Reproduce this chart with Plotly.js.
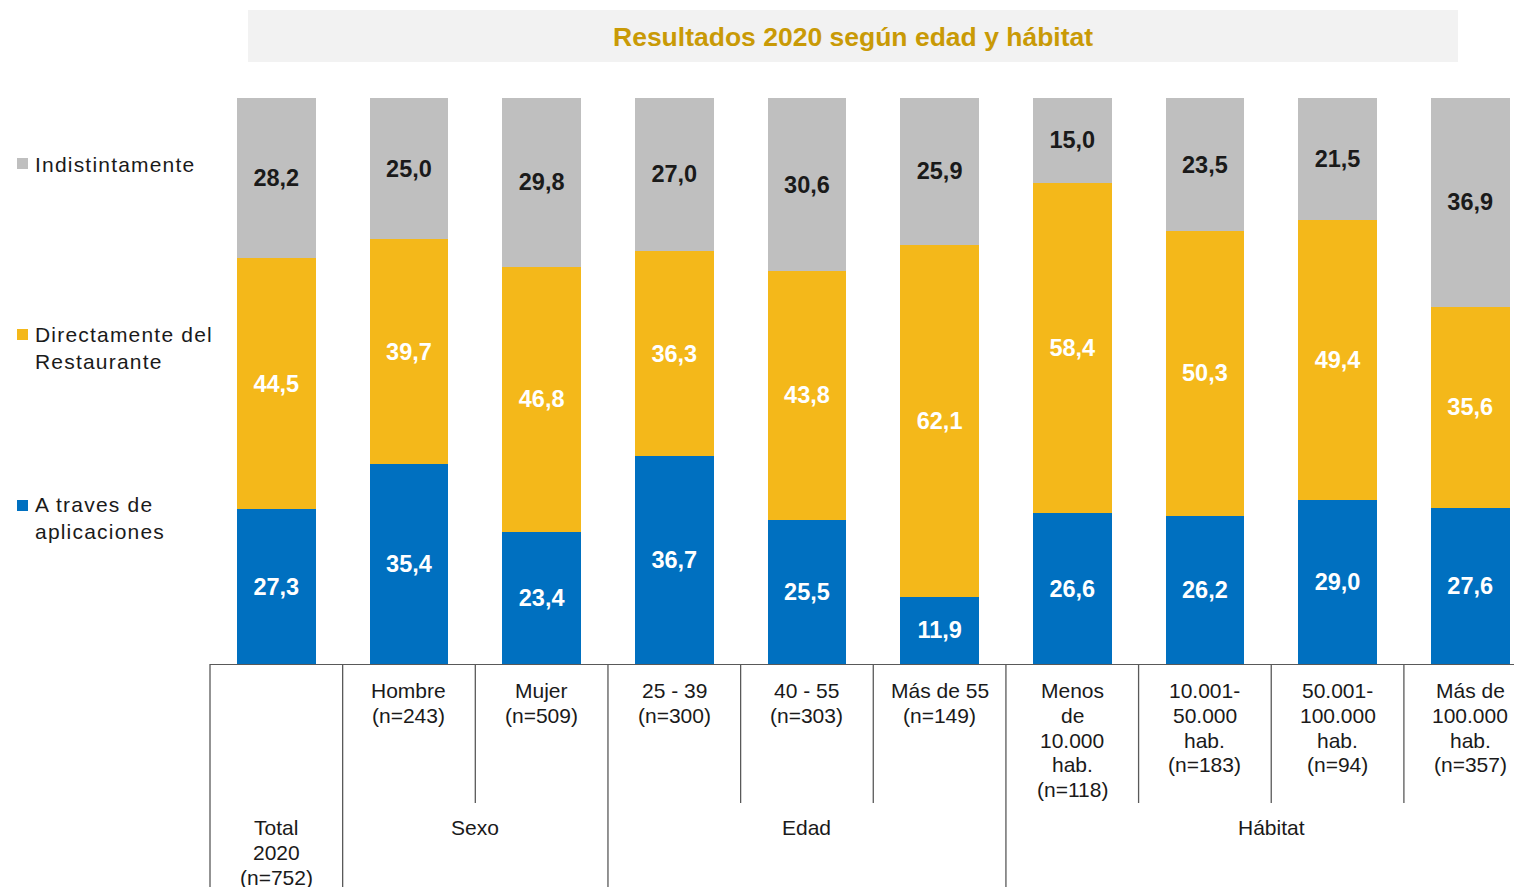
<!DOCTYPE html>
<html>
<head>
<meta charset="utf-8">
<script src="https://cdn.plot.ly/plotly-3.0.1.min.js"></script>
<style>
  html, body { margin: 0; padding: 0; background: #ffffff; }
  #chart { width: 1514px; height: 887px; }
</style>
</head>
<body>
<div id="chart"></div>
<script>
// ---------- data ----------
const categories = ['Total 2020', 'Hombre', 'Mujer', '25 - 39', '40 - 55', 'Más de 55',
  'Menos de 10.000 hab.', '10.001-50.000 hab.', '50.001-100.000 hab.', 'Más de 100.000 hab.'];

const aplicaciones  = [27.3, 35.4, 23.4, 36.7, 25.5, 11.9, 26.6, 26.2, 29.0, 27.6];
const restaurante   = [44.5, 39.7, 46.8, 36.3, 43.8, 62.1, 58.4, 50.3, 49.4, 35.6];
const indistinto    = [28.2, 25.0, 29.8, 27.0, 30.6, 25.9, 15.0, 23.5, 21.5, 36.9];

const seriesNames = ['A traves de<br>aplicaciones', 'Directamente del<br>Restaurante', 'Indistintamente'];

const tickLabels = [
  [],
  ['Hombre', '(n=243)'],
  ['Mujer', '(n=509)'],
  ['25 - 39', '(n=300)'],
  ['40 - 55', '(n=303)'],
  ['Más de 55', '(n=149)'],
  ['Menos', 'de', '10.000', 'hab.', '(n=118)'],
  ['10.001-', '50.000', 'hab.', '(n=183)'],
  ['50.001-', '100.000', 'hab.', '(n=94)'],
  ['Más de', '100.000', 'hab.', '(n=357)']
];

const groupNames = [['Total', '2020', '(n=752)'], ['Sexo'], ['Edad'], ['Hábitat']];
const groupFirst = [0, 1, 3, 6];
const groupLast  = [0, 2, 5, 9];

const titleText = 'Resultados 2020 según edad y hábitat';

// ---------- styles / geometry ----------
const W = 1514, H = 887;
const M = { l: 210, r: 0, t: 98, b: 223 };
const plotW = W - M.l - M.r, plotH = H - M.t - M.b;
const xRange = [-0.5, 9.33];
const colors = ['#0070c0', '#f4b81a', '#bfbfbf'];
const textColors = ['#ffffff', '#ffffff', '#1a1a1a'];
const FONT = 'Liberation Sans, Arial, sans-serif';
const lineCol = '#595959';

const py = p => (H - M.b - p) / plotH;          // pixel y -> paper y
const pxp = p => (p - M.l) / plotW;              // pixel x -> paper x
const dx = v => (v - xRange[0]) / (xRange[1] - xRange[0]); // data x -> paper x
const fmt = v => v.toFixed(1).replace('.', ',');

const values = [aplicaciones, restaurante, indistinto];
const traces = values.map((vals, i) => ({
  type: 'bar',
  x: categories,
  y: vals,
  name: seriesNames[i],
  marker: { color: colors[i], line: { width: 0 } },
  text: vals.map(fmt),
  texttemplate: '%{text}',
  textposition: 'inside',
  insidetextanchor: 'middle',
  textangle: 0,
  constraintext: 'none',
  textfont: { family: FONT, size: 23.5, color: textColors[i], weight: 'bold' },
  hoverinfo: 'x+y+name'
}));

const shapes = [];
const annotations = [];

// title box
shapes.push({ type: 'rect', xref: 'paper', yref: 'paper', x0: pxp(248), x1: pxp(1458), y0: py(62), y1: py(10),
  fillcolor: '#f2f2f2', line: { width: 0 }, layer: 'below' });
annotations.push({ xref: 'paper', yref: 'paper', x: pxp(853), y: py(37), xanchor: 'center', yanchor: 'middle',
  text: '<b>' + titleText + '</b>', showarrow: false, font: { family: FONT, size: 26.5, color: '#c99a06' } });

// legend (left)
const legendY = [518, 348, 164];
const legendSq = [505.5, 334.5, 163.5];
const legendAnnIdx = [];
for (let i = 0; i < 3; i++) {
  shapes.push({ type: 'rect', xref: 'paper', yref: 'paper', x0: pxp(17), x1: pxp(28), y0: py(legendSq[i] + 5.5), y1: py(legendSq[i] - 5.5),
    fillcolor: colors[i], line: { width: 0 } });
  legendAnnIdx.push(annotations.length);
  annotations.push({ xref: 'paper', yref: 'paper', x: pxp(33), y: py(legendY[i]), xanchor: 'left', yanchor: 'middle',
    align: 'left', text: seriesNames[i], showarrow: false, font: { family: FONT, size: 21, color: '#1a1a1a' } });
}

// category labels below the axis (one annotation per line)
const lineStep = 24.75;
tickLabels.forEach((lines, c) => {
  lines.forEach((ln, k) => {
    annotations.push({ xref: 'x', yref: 'paper', x: c, y: py(690.5 + k * lineStep), xanchor: 'center', yanchor: 'middle',
      text: ln, showarrow: false, font: { family: FONT, size: 21, color: '#1a1a1a' } });
  });
});
groupNames.forEach((lines, g) => {
  const cx = (groupFirst[g] + groupLast[g]) / 2;
  lines.forEach((ln, k) => {
    annotations.push({ xref: 'x', yref: 'paper', x: cx, y: py(827.5 + k * lineStep), xanchor: 'center', yanchor: 'middle',
      text: ln, showarrow: false, font: { family: FONT, size: 21, color: '#1a1a1a' } });
  });
});

// separators
groupFirst.forEach((f, g) => {
  const xb = f - 0.5;
  shapes.push({ type: 'line', xref: 'paper', yref: 'paper', x0: dx(xb), x1: dx(xb), y0: 0, y1: py(H),
    line: { color: lineCol, width: 1.3 } });
  for (let c = f; c < groupLast[g]; c++) {
    const xs = c + 0.5;
    if (xs > xRange[1]) continue;
    shapes.push({ type: 'line', xref: 'paper', yref: 'paper', x0: dx(xs), x1: dx(xs), y0: 0, y1: py(803),
      line: { color: lineCol, width: 1.3 } });
  }
});

const layout = {
  width: W, height: H,
  margin: M,
  paper_bgcolor: '#ffffff', plot_bgcolor: '#ffffff',
  barmode: 'stack', barnorm: 'percent', bargap: 0.407,
  showlegend: false,
  font: { family: FONT, color: '#1a1a1a' },
  xaxis: { type: 'category', range: xRange, showticklabels: false, ticks: '', showgrid: false,
    showline: true, linecolor: lineCol, linewidth: 1.3, fixedrange: true },
  yaxis: { range: [0, 100], visible: false, showgrid: false, zeroline: false, fixedrange: true },
  shapes: shapes,
  annotations: annotations
};

Plotly.newPlot('chart', traces, layout, { displayModeBar: false, staticPlot: true }).then(gd => {
  // slightly wider letter spacing for the legend texts, as in the reference
  legendAnnIdx.forEach(idx => {
    const t = gd.querySelector('g.annotation[data-index="' + idx + '"] text.annotation-text');
    if (t) {
      t.style.letterSpacing = '1.2px';
      t.querySelectorAll('tspan').forEach(s => { s.style.letterSpacing = '1.2px'; });
    }
  });
});
</script>
</body>
</html>
